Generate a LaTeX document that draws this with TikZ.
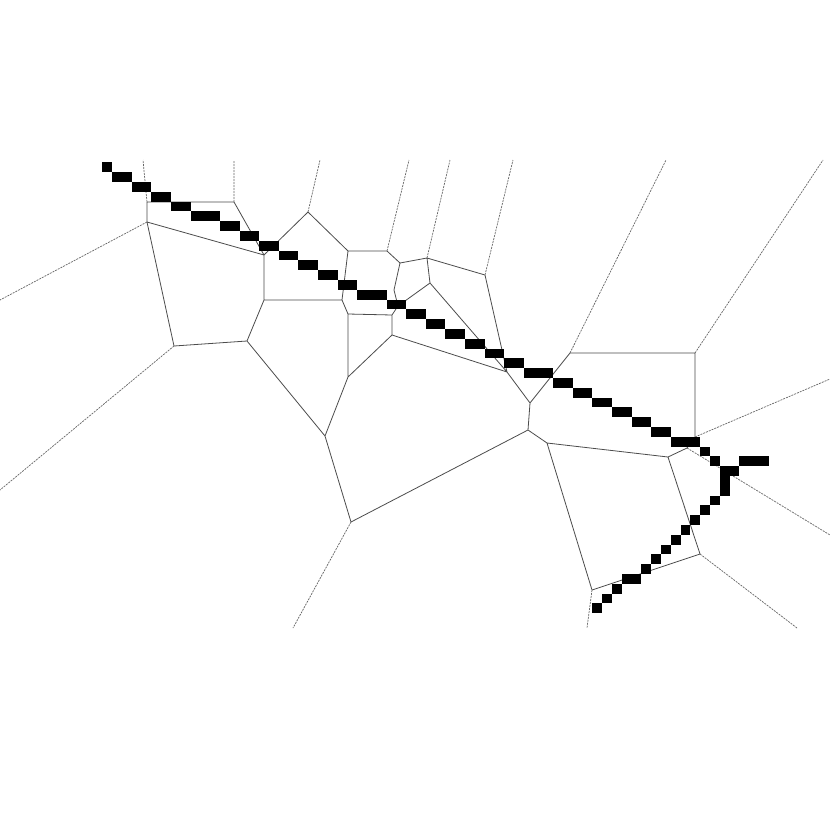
\documentclass[tikz,border=0pt]{standalone}
\begin{document}
\begin{tikzpicture}[x=1pt,y=-1pt,
  edge/.style={draw=black!70, line width=0.8pt},
  ray/.style={draw=black!60, line width=0.7pt, dash pattern=on 2pt off 1pt},
  px/.style={fill=black}]
\useasboundingbox (0,0) rectangle (830,830);
\fill[white] (0,0) rectangle (830,830);
% Voronoi vertices
\coordinate (v1) at (147,202);
\coordinate (v2) at (234,202);
\coordinate (v3) at (147,222);
\coordinate (v4) at (264,255);
\coordinate (v5) at (264,300);
\coordinate (v6) at (247,341);
\coordinate (v7) at (174,346);
\coordinate (v8) at (308,212);
\coordinate (v9) at (348,251);
\coordinate (v9b) at (387,251);
\coordinate (v10) at (342,300);
\coordinate (v11) at (348,314);
\coordinate (v12) at (392,315);
\coordinate (v13) at (348,377);
\coordinate (v14) at (392,335);
\coordinate (v15) at (427,258);
\coordinate (v16) at (485,275);
\coordinate (v17) at (507,372);
\coordinate (v18) at (430,283);
\coordinate (v19) at (530,403);
\coordinate (v20) at (570,353);
\coordinate (v21) at (528,430);
\coordinate (v22) at (547,443);
\coordinate (v23) at (668,457);
\coordinate (v24) at (351,522);
\coordinate (v25) at (325,436);
\coordinate (v26) at (695,353);
\coordinate (v27) at (695,437);
\coordinate (v28) at (687,448);
\coordinate (v29) at (700,554);
\coordinate (v30) at (592,590);
\coordinate (v31) at (400,263);
\coordinate (v32) at (394,290);
\coordinate (vh) at (398,306);
% ray ends
\coordinate (e1) at (143,160);
\coordinate (e2) at (234,160);
\coordinate (e8) at (320,160);
\coordinate (e9) at (409,160);
\coordinate (e15) at (450,160);
\coordinate (e16) at (513,160);
\coordinate (e20) at (666,160);
\coordinate (e26) at (823,160);
\coordinate (e3) at (0,300);
\coordinate (e7) at (0,490);
\coordinate (e24) at (293,628);
\coordinate (e30) at (587,628);
\coordinate (e29) at (797,628);
\coordinate (e28) at (830,535);
\coordinate (e27) at (830,379);
% finite edges
\draw[edge] (v1)--(v2) (v1)--(v3) (v2)--(v4) (v3)--(v4) (v3)--(v7)
  (v4)--(v5) (v4)--(v8) (v5)--(v6) (v5)--(v10) (v6)--(v7) (v6)--(v25)
  (v8)--(v9) (v9)--(v9b) (v9)--(v10) (v10)--(v11) (v11)--(v12) (v11)--(v13)
  (v12)--(v14) (v12)--(vh) (v9b)--(v31) (v31)--(v15) (v31)--(v32) (v32)--(vh)
  (vh)--(v18) (v15)--(v18) (v15)--(v16) (v16)--(v17) (v18)--(v17) (v14)--(v17)
  (v14)--(v13) (v13)--(v25) (v25)--(v24) (v24)--(v21) (v17)--(v19) (v19)--(v20)
  (v19)--(v21) (v21)--(v22) (v22)--(v23) (v22)--(v30) (v20)--(v26) (v26)--(v27)
  (v27)--(v28) (v28)--(v23) (v23)--(v29) (v29)--(v30);
% unbounded edges
\draw[ray] (v1)--(e1) (v2)--(e2) (v8)--(e8) (v9b)--(e9) (v15)--(e15)
  (v16)--(e16) (v20)--(e20) (v26)--(e26) (v3)--(e3) (v7)--(e7)
  (v24)--(e24) (v30)--(e30) (v29)--(e29) (v28)--(e28) (v27)--(e27);
% pixelated path
\foreach \r/\a/\b in {0/0/0,1/1/2,2/3/4,3/5/6,4/7/8,5/9/11,6/12/13,7/14/15,8/16/17,9/18/19,10/20/21,11/22/23,12/24/25,13/26/28,14/29/30,15/31/32,16/33/34,17/35/36,18/37/38,19/39/40,20/41/42,21/43/45,22/46/47,23/48/49,24/50/51,25/52/53,26/54/55,27/56/57,28/58/60,29/61/61,30/62/62,30/65/67,31/63/64,32/63/63,33/63/63,34/62/62,35/61/61,36/60/60,37/59/59,38/58/58,39/57/57,40/56/56,41/55/55,42/53/54,43/52/52,44/51/51,45/50/50}
  \fill[px] ({102.3+\a*9.8},{162.3+\r*9.8}) rectangle ({102.3+(\b+1)*9.8},{162.3+(\r+1)*9.8});
\end{tikzpicture}
\end{document}
